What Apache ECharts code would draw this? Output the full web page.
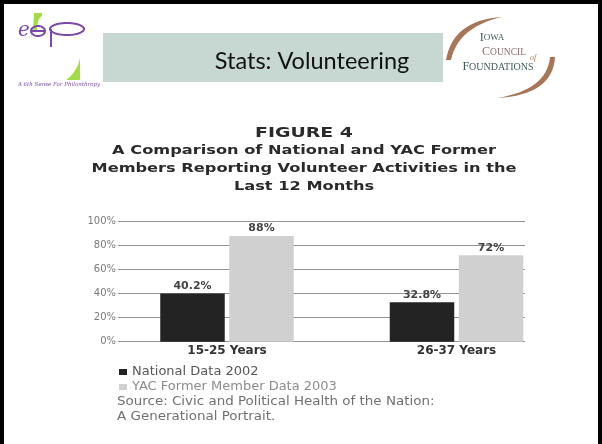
<!DOCTYPE html>
<html>
<head>
<meta charset="utf-8">
<title>Stats: Volunteering</title>
<script src="https://cdn.jsdelivr.net/npm/echarts@6/dist/echarts.min.js"></script>
<style>
html, body { margin: 0; padding: 0; background: #fff; }
#main { width: 602px; height: 444px; }
</style>
</head>
<body>
<div id="main"></div>
<script>
// chart data
const ageGroups = ['15-25 Years', '26-37 Years']
const nationalData = [40.2, 32.8]
const yacData = [88, 72]
const seriesNames = ['National Data 2002', 'YAC Former Member Data 2003']
const yMin = 0
const yMax = 100
const yStep = 20

// texts
const slideTitle = 'Stats: Volunteering'
const figureLines = [
  'FIGURE 4',
  'A Comparison of National and YAC Former',
  'Members Reporting Volunteer Activities in the',
  'Last 12 Months'
]
const sourceLines = [
  'Source: Civic and Political Health of the Nation:',
  'A Generational Portrait.'
]

const purple = '#7b4aa8'
const lime = '#a3dd45'
const brown = '#a87656'
const slate = '#3c5a5b'

// logo drawing helpers (decoration only)
function quad (p0, c, p1, n) {
  const pts = []
  for (let i = 0; i <= n; i++) {
    const t = i / n
    const a = (1 - t) * (1 - t)
    const b = 2 * t * (1 - t)
    const d = t * t
    pts.push([a * p0[0] + b * c[0] + d * p1[0], a * p0[1] + b * c[1] + d * p1[1]])
  }
  return pts
}
function ellipsePts (cx, cy, rx, ry) {
  const pts = []
  for (let i = 0; i < 48; i++) {
    const t = i / 48 * Math.PI * 2
    pts.push([cx + rx * Math.cos(t), cy + ry * Math.sin(t)])
  }
  return pts
}

// figure title, stretched like the scanned original
const figureText = figureLines.map((t, i) => ({
  type: 'text',
  x: 304,
  y: [133, 150.5, 168.5, 186.5][i],
  scaleX: 1.35,
  style: {
    text: t,
    textAlign: 'center',
    textVerticalAlign: 'middle',
    fontFamily: 'DejaVu Sans',
    fontWeight: 'bold',
    fontSize: i === 0 ? 14 : 12,
    fill: '#2a2a2a'
  }
}))

const sourceText = sourceLines.map((t, i) => ({
  type: 'text',
  x: 117,
  y: 402 + i * 14.5,
  scaleX: 1.12,
  style: {
    text: t,
    textAlign: 'left',
    textVerticalAlign: 'middle',
    fontFamily: 'DejaVu Sans',
    fontSize: 12,
    fill: '#717171'
  }
}))

const graphics = [
  // slide frame
  { type: 'rect', shape: { x: 0, y: 0, width: 4, height: 444 }, style: { fill: '#000' } },
  { type: 'rect', shape: { x: 0, y: 0, width: 602, height: 4 }, style: { fill: '#000' } },
  { type: 'rect', shape: { x: 598, y: 0, width: 4, height: 444 }, style: { fill: '#000' } },
  // header band
  { type: 'rect', shape: { x: 103, y: 33, width: 340, height: 49 }, style: { fill: '#c7d7d1' } },
  {
    type: 'text', x: 312, y: 61,
    style: { text: slideTitle, textAlign: 'center', textVerticalAlign: 'middle', fontFamily: 'Lato', fontSize: 23.5, fill: '#111' }
  },
  // esp logo
  { type: 'polygon', shape: { points: [[34, 13], [42, 13], [42, 16]].concat(quad([42, 16], [37, 18], [37, 32], 8), [[33, 32]]) }, style: { fill: lime } },
  { type: 'polygon', shape: { points: [[80, 58], [80, 80], [66, 80]].concat(quad([66, 80], [77, 72], [80, 58], 8)) }, style: { fill: lime } },
  {
    type: 'text', x: 24, y: 31,
    style: { text: 'e', textAlign: 'center', textVerticalAlign: 'middle', fontFamily: 'DejaVu Serif', fontStyle: 'italic', fontSize: 20, fill: purple }
  },
  { type: 'polygon', shape: { points: ellipsePts(38, 31, 7, 5) }, style: { fill: 'none', stroke: purple, lineWidth: 2 } },
  { type: 'line', shape: { x1: 31, y1: 31, x2: 45, y2: 31 }, style: { stroke: purple, lineWidth: 2 } },
  { type: 'polygon', shape: { points: ellipsePts(67, 29, 17, 6) }, style: { fill: 'none', stroke: purple, lineWidth: 2 } },
  { type: 'line', shape: { x1: 51, y1: 29, x2: 51, y2: 47 }, style: { stroke: purple, lineWidth: 2 } },
  {
    type: 'text', x: 59, y: 85,
    style: { text: 'A 6th Sense For Philanthropy', textAlign: 'center', textVerticalAlign: 'middle', fontFamily: 'DejaVu Serif', fontStyle: 'italic', fontSize: 5.5, fill: purple }
  },
  // iowa council logo
  { type: 'polygon', shape: { points: quad([502, 17], [453, 20], [446, 60], 16).concat(quad([451, 60], [458, 27], [502, 17], 16)) }, style: { fill: brown } },
  { type: 'polygon', shape: { points: quad([550, 57], [547, 90], [497, 98], 16).concat(quad([497, 98], [553, 95], [555, 57], 16)) }, style: { fill: brown } },
  {
    type: 'text', x: 492, y: 38,
    style: {
      text: '{a|I}{b|OWA}', textAlign: 'center', textVerticalAlign: 'middle',
      rich: {
        a: { fontFamily: 'Liberation Serif', fontSize: 12, fill: slate, color: slate },
        b: { fontFamily: 'Liberation Serif', fontSize: 9, fill: slate, color: slate }
      }
    }
  },
  {
    type: 'text', x: 504, y: 52,
    style: {
      text: '{a|C}{b|OUNCIL}', textAlign: 'center', textVerticalAlign: 'middle',
      rich: {
        a: { fontFamily: 'Liberation Serif', fontSize: 12, fill: '#8d6e6e', color: '#8d6e6e' },
        b: { fontFamily: 'Liberation Serif', fontSize: 9.5, fill: '#8d6e6e', color: '#8d6e6e' }
      }
    }
  },
  {
    type: 'text', x: 533, y: 58,
    style: { text: 'of', textAlign: 'center', textVerticalAlign: 'middle', fontFamily: 'Liberation Serif', fontStyle: 'italic', fontSize: 8, fill: brown }
  },
  {
    type: 'text', x: 498, y: 67,
    style: {
      text: '{a|F}{b|OUNDATIONS}', textAlign: 'center', textVerticalAlign: 'middle',
      rich: {
        a: { fontFamily: 'Liberation Serif', fontSize: 12, fill: slate, color: slate },
        b: { fontFamily: 'Liberation Serif', fontSize: 10, fill: slate, color: slate }
      }
    }
  }
].concat(figureText, sourceText)

const chart = echarts.init(document.getElementById('main'), null, { renderer: 'canvas' })

chart.setOption({
  backgroundColor: '#fff',
  animation: false,
  // grid 0 carries the percent axis and its lines, grid 1 places the bars
  grid: [
    { left: 118, right: 77, top: 221.7, height: 120, outerBoundsMode: 'none', containLabel: false },
    { left: 112.25, right: 30.75, top: 221.7, height: 120, outerBoundsMode: 'none', containLabel: false }
  ],
  legend: {
    orient: 'vertical',
    left: 119,
    top: 365.5,
    padding: 0,
    itemWidth: 8,
    itemHeight: 6,
    itemGap: 2,
    icon: 'rect',
    textStyle: { fontFamily: 'DejaVu Sans', fontSize: 13, lineHeight: 13, padding: [0, 0, 0, 0] },
    data: [
      { name: seriesNames[0], textStyle: { color: '#575757' } },
      { name: seriesNames[1], textStyle: { color: '#8c8c8c' } }
    ]
  },
  xAxis: [
    { gridIndex: 0, type: 'value', show: false },
    {
      gridIndex: 1,
      type: 'category',
      data: ageGroups,
      axisLine: { show: false },
      axisTick: { show: false },
      axisLabel: { fontFamily: 'DejaVu Sans', fontWeight: 'bold', fontSize: 12, color: '#333', margin: 3 }
    }
  ],
  yAxis: [
    {
      gridIndex: 0,
      type: 'value',
      min: yMin,
      max: yMax,
      interval: yStep,
      axisLine: { show: false },
      axisTick: { show: false },
      splitLine: { lineStyle: { color: '#939393', width: 1 } },
      axisLabel: { formatter: '{value}%', fontFamily: 'DejaVu Sans', fontSize: 10, color: '#7a7a7a', margin: 2 }
    },
    { gridIndex: 1, type: 'value', min: yMin, max: yMax, show: false }
  ],
  series: [
    {
      name: seriesNames[0],
      type: 'bar',
      xAxisIndex: 1,
      yAxisIndex: 1,
      barWidth: 64.5,
      barGap: '7%',
      itemStyle: { color: '#232323' },
      label: {
        show: true,
        position: 'top',
        distance: 2,
        formatter: '{c}%',
        fontFamily: 'DejaVu Sans',
        fontWeight: 'bold',
        fontSize: 11,
        color: '#444'
      },
      data: nationalData
    },
    {
      name: seriesNames[1],
      type: 'bar',
      xAxisIndex: 1,
      yAxisIndex: 1,
      barWidth: 64.5,
      barGap: '7%',
      itemStyle: { color: '#d0d0d0' },
      label: {
        show: true,
        position: 'top',
        distance: 2,
        formatter: '{c}%',
        fontFamily: 'DejaVu Sans',
        fontWeight: 'bold',
        fontSize: 11,
        color: '#444'
      },
      data: yacData
    }
  ],
  graphic: graphics
})
</script>
</body>
</html>
